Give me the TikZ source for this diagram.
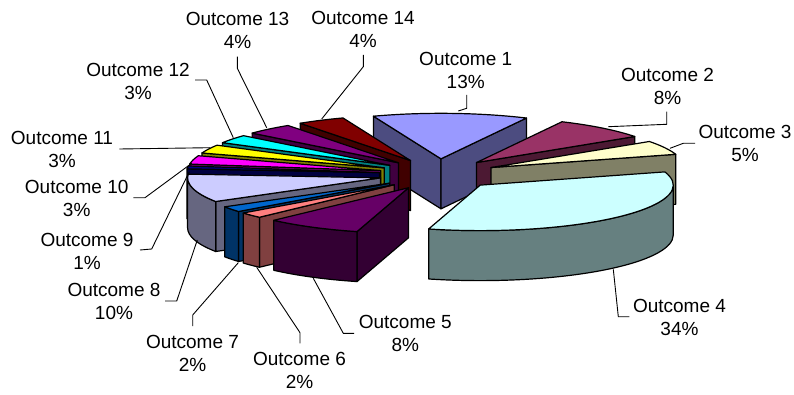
\documentclass[tikz,border=0pt]{standalone}
\usepackage{fontspec}
\setmainfont{Liberation Sans}
\usetikzlibrary{calc}
\definecolor{c1}{HTML}{9999FF}
\definecolor{c2}{HTML}{993366}
\definecolor{c3}{HTML}{FFFFCC}
\definecolor{c4}{HTML}{CCFFFF}
\definecolor{c5}{HTML}{660066}
\definecolor{c6}{HTML}{FF8080}
\definecolor{c7}{HTML}{0066CC}
\definecolor{c8}{HTML}{CCCCFF}
\definecolor{c9}{HTML}{000080}
\definecolor{c10}{HTML}{FF00FF}
\definecolor{c11}{HTML}{FFFF00}
\definecolor{c12}{HTML}{00FFFF}
\definecolor{c13}{HTML}{800080}
\definecolor{c14}{HTML}{800000}
\newcommand{\pieRX}{193}
\newcommand{\pieRY}{45.5}
\newcommand{\pieD}{50}
\newcommand{\pieEX}{59}
\newcommand{\pieEY}{15.5}
\tikzset{
  face/.style={draw=black, line width=1.2pt, line join=round},
  leader/.style={draw=black, line width=0.9pt},
  lab/.style={align=center, inner sep=0pt, font=\fontsize{19}{23}\selectfont}
}
% #1 name, #2 start angle, #3 end angle (clockwise), #4 top colour
\newcommand{\pieslice}[4]{%
  \pgfmathsetmacro\pieM{(#2+#3)/2}%
  \coordinate (#1) at ($(C)+({\pieEX*cos(\pieM)},{\pieEY*sin(\pieM)})$);%
  \pgfmathtruncatemacro\pieVs{cos(#2)<0}%
  \ifnum\pieVs=1
    \filldraw[face, fill=#4!50!black] (#1) -- ++({\pieRX*cos(#2)},{\pieRY*sin(#2)}) -- ++(0,-\pieD) -- ($(#1)+(0,-\pieD)$) -- cycle;
  \fi
  \pgfmathtruncatemacro\pieVe{cos(#3)>0}%
  \ifnum\pieVe=1
    \filldraw[face, fill=#4!50!black] (#1) -- ++({\pieRX*cos(#3)},{\pieRY*sin(#3)}) -- ++(0,-\pieD) -- ($(#1)+(0,-\pieD)$) -- cycle;
  \fi
  \pgfmathsetmacro\pieLo{max(#3,-180)}%
  \pgfmathsetmacro\pieHi{min(#2,0)}%
  \ifdim\pieLo pt<\pieHi pt
    \filldraw[face, fill=#4!50!black] ($(#1)+({\pieRX*cos(\pieHi)},{\pieRY*sin(\pieHi)})$) arc[start angle=\pieHi, end angle=\pieLo, x radius=\pieRX pt, y radius=\pieRY pt] -- ++(0,-\pieD) arc[start angle=\pieLo, end angle=\pieHi, x radius=\pieRX pt, y radius=\pieRY pt] -- cycle;
  \fi
  \filldraw[face, fill=#4] (#1) -- ++({\pieRX*cos(#2)},{\pieRY*sin(#2)}) arc[start angle=#2, end angle=#3, x radius=\pieRX pt, y radius=\pieRY pt] -- cycle;
}
\begin{document}
\begin{tikzpicture}[x=1pt,y=1pt]
\useasboundingbox (0,0) rectangle (794,394);
\coordinate (C) at (438,219.7);
% slices, back to front
\pieslice{s1}{110.5}{63.7}{c1}
\pieslice{s14}{-235.1}{-249.5}{c14}
\pieslice{s2}{63.7}{34.9}{c2}
\pieslice{s13}{-220.7}{-235.1}{c13}
\pieslice{s12}{-209.9}{-220.7}{c12}
\pieslice{s3}{34.9}{16.9}{c3}
\pieslice{s11}{-199.1}{-209.9}{c11}
\pieslice{s10}{-188.3}{-199.1}{c10}
\pieslice{s9}{-184.7}{-188.3}{c9}
\pieslice{s8}{-148.7}{-184.7}{c8}
\pieslice{s7}{-141.5}{-148.7}{c7}
\pieslice{s6}{-134.3}{-141.5}{c6}
\pieslice{s4}{16.9}{-105.5}{c4}
\pieslice{s5}{-105.5}{-134.3}{c5}
% labels
\node[lab] (lab1) at (465.7,324) {Outcome 1\\13\%};
\node[lab] (lab2) at (667.5,307.7) {Outcome 2\\8\%};
\node[lab] (lab3) at (745,250.7) {Outcome 3\\5\%};
\node[lab] (lab4) at (679.5,76.8) {Outcome 4\\34\%};
\node[lab] (lab5) at (405.3,60.7) {Outcome 5\\8\%};
\node[lab] (lab6) at (299.5,24) {Outcome 6\\2\%};
\node[lab] (lab7) at (192.5,40.7) {Outcome 7\\2\%};
\node[lab] (lab8) at (114,92.5) {Outcome 8\\10\%};
\node[lab] (lab9) at (87,142.5) {Outcome 9\\1\%};
\node[lab] (lab10) at (76.7,195.7) {Outcome 10\\3\%};
\node[lab] (lab11) at (62,244.3) {Outcome 11\\3\%};
\node[lab] (lab12) at (138,312.7) {Outcome 12\\3\%};
\node[lab] (lab13) at (237.5,364) {Outcome 13\\4\%};
\node[lab] (lab14) at (363,364.8) {Outcome 14\\4\%};
% leader points
\coordinate (p1) at (458.3,283);   \coordinate (q1) at (466.7,285.7); \coordinate (r1) at (466.7,299);
\coordinate (p2) at (608.3,267.3); \coordinate (q2) at (666.7,269.7); \coordinate (r2) at (666.7,282.3);
\coordinate (p3) at (670,245.7);   \coordinate (q3) at (683.3,250.7); \coordinate (r3) at (695,250.7);
\coordinate (p4) at (613.3,124.7); \coordinate (q4) at (618.3,77.3);  \coordinate (r4) at (629.3,77.3);
\coordinate (p5) at (313.3,115.7); \coordinate (q5) at (343.3,60.7);  \coordinate (r5) at (354,60.7);
\coordinate (p6) at (256.7,126.7); \coordinate (q6) at (300,61.3);    \coordinate (r6) at (300,50.7);
\coordinate (p7) at (238.3,131.3); \coordinate (q7) at (192.7,79);    \coordinate (r7) at (192.7,68);
\coordinate (p8) at (197.3,154);   \coordinate (q8) at (176.7,93);    \coordinate (r8) at (165,93);
\coordinate (p9) at (189.3,222.3); \coordinate (q9) at (151.7,145);   \coordinate (r9) at (140,144);
\coordinate (p10) at (191.7,230.7);\coordinate (q10) at (145,196.3);  \coordinate (r10) at (133.3,196.3);
\coordinate (p11) at (210,246.3);  \coordinate (r11) at (119.3,245);
\coordinate (p12) at (233.3,256.3);\coordinate (q12) at (206.7,314);  \coordinate (r12) at (195,314);
\coordinate (p13) at (266.7,266.3);\coordinate (q13) at (237.3,325.7);\coordinate (r13) at (237.3,337.3);
\coordinate (p14) at (321.7,275);  \coordinate (q14) at (363.3,327.3);\coordinate (r14) at (363.3,339);
\foreach \i in {1,...,10,12,13,14} {\draw[leader] (p\i) -- (q\i) -- (r\i);}
\draw[leader] (p11) -- (r11);
\end{tikzpicture}
\end{document}
